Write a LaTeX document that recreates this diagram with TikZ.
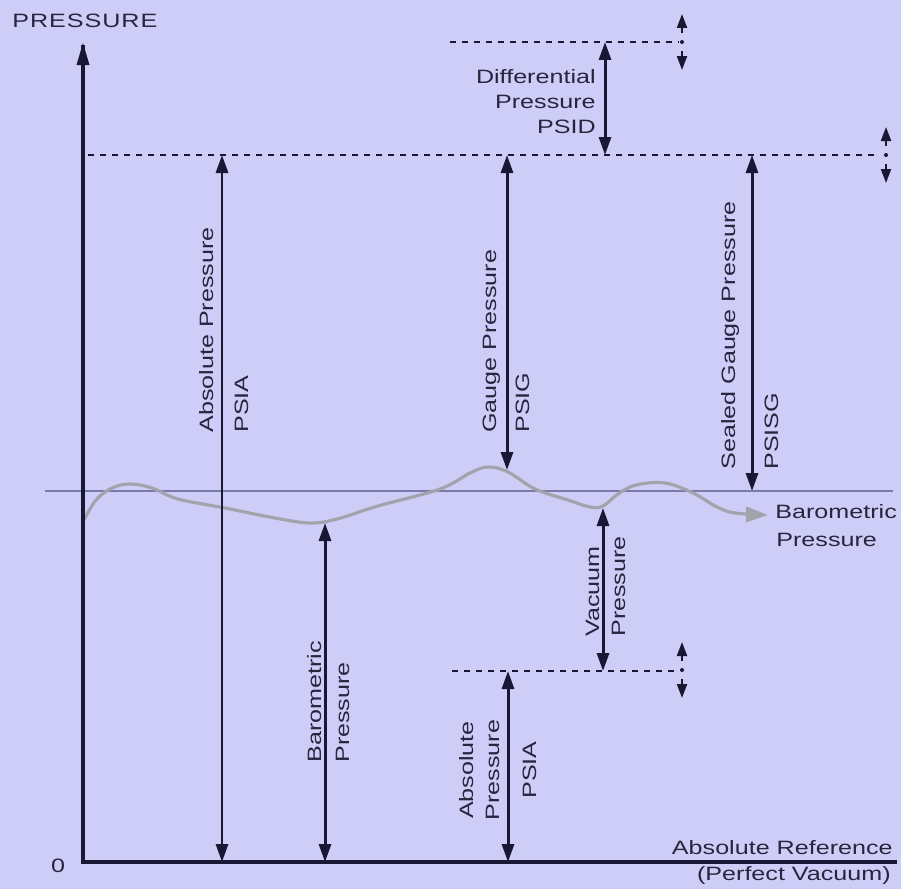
\documentclass[tikz,border=0pt]{standalone}
\usepackage{fontspec}
\setmainfont{Liberation Sans}[FakeStretch=1.3]
\usepackage{tikz}
\usetikzlibrary{arrows.meta}
\definecolor{bgblue}{RGB}{206,205,248}
\definecolor{ink}{RGB}{24,24,52}
\definecolor{inkt}{RGB}{38,38,62}
\definecolor{wave}{RGB}{163,163,172}
\definecolor{baro}{RGB}{122,122,170}

\begin{document}
\begin{tikzpicture}[x=0.02cm,y=-0.02cm]
\tikzstyle{every node}+=[inner sep=0pt]
\tikzstyle{lbl}=[text=inkt, font=\fontsize{11}{13}\selectfont, text height=7pt, text depth=0pt]
\tikzstyle{vlbl}=[lbl, rotate=90, anchor=west]
\tikzstyle{dimarrow}=[draw=ink, line width=1.7pt, >={Triangle[length=0.36cm,width=0.24cm]}, <->]
\tikzstyle{level}=[draw=ink, line width=1.4pt, dash pattern=on 0.12cm off 0.12cm]
\tikzstyle{jittip}=[draw=ink, line width=1.2pt, -{Triangle[length=0.28cm,width=0.2cm]}]
\fill [bgblue] (0,0) rectangle (901,889);
\useasboundingbox (0,0) rectangle (901,889);
\coordinate (origin) at (83,862);
\coordinate (ytop) at (83,45);
\coordinate (xend) at (897,862);
\coordinate (diffL) at (450,42);
\coordinate (diffR) at (678,42);
\coordinate (highL) at (88,155);
\coordinate (highR) at (878,155);
\coordinate (lowL) at (452,671);
\coordinate (lowR) at (675,671);
\coordinate (baroL) at (45,491);
\coordinate (baroR) at (893,491);
\coordinate (wgauge) at (507,470);
\coordinate (wbaro) at (325,523);
\coordinate (wvac) at (603,508);
\coordinate (wseal) at (752,491);
\coordinate (jdiff) at (682,42);
\coordinate (jhigh) at (886,155);
\coordinate (jlow) at (682,670);
\draw [baro, line width=1pt] (baroL) -- (baroR);
\draw [wave, line width=1.8pt, -{Triangle[length=0.44cm,width=0.3cm]}] plot [smooth, tension=0.6] coordinates {(84,520) (96,500) (112,488) (130,484) (152,488) (178,499) (225,508) (275,518) (310,523) (337,519) (378,506) (440,489) (470,473) (488,467) (508,472) (535,489) (568,500) (590,507) (603,506) (618,494) (636,485) (665,483) (693,493) (717,507) (735,513) (768,515)};
\draw [ink, line width=2.3pt] (ytop) -- (origin) -- (xend);
\fill [ink] (ytop) ++(0,-2) -- ++(-6.5,22) -- ++(13,0) -- cycle;
\draw [level] (diffL) -- (diffR);
\draw [level] (highL) -- (highR);
\draw [level] (lowL) -- (lowR);
\foreach \j in {jdiff,jhigh,jlow} {
  \fill [ink] (\j) circle (2);
  \draw [jittip] (\j) ++(0,-9) -- ++(0,-19);
  \draw [jittip] (\j) ++(0,9) -- ++(0,19);
}
\draw [dimarrow] (605,42) -- (605,155);
\draw [dimarrow] (222,155) -- (222,862);
\draw [dimarrow] (507,155) -- (wgauge);
\draw [dimarrow] (752,155) -- (wseal);
\draw [dimarrow] (wbaro) -- (325,862);
\draw [dimarrow] (wvac) -- (603,671);
\draw [dimarrow] (508,671) -- (508,862);
\node [lbl, anchor=west, font=\fontsize{11}{13}\selectfont\addfontfeature{LetterSpace=5}] (ylabel) at (12,21) {PRESSURE};
\node [lbl] (zero) at (58,866) {0};
\node [lbl, anchor=east] (absref) at (893,848) {Absolute Reference};
\node [lbl, anchor=east] (vacref) at (891,874) {(Perfect Vacuum)};
\node [lbl, anchor=west] (barotxt) at (775,512) {Barometric};
\node [lbl, anchor=west] (barotxtb) at (776,540) {Pressure};
\node [lbl, anchor=east] (difftxt) at (596,77) {Differential};
\node [lbl, anchor=east] (difftxtb) at (596,102) {Pressure};
\node [lbl, anchor=east] (difftxtc) at (596,127) {PSID};
\node [vlbl] (abstxt) at (207,433) {Absolute Pressure};
\node [vlbl] (abstxtb) at (242,433) {PSIA};
\node [vlbl] (gaugetxt) at (490,433) {Gauge Pressure};
\node [vlbl] (gaugetxtb) at (523,433) {PSIG};
\node [vlbl] (sealtxt) at (729,470) {Sealed Gauge Pressure};
\node [vlbl] (sealtxtb) at (772,470) {PSISG};
\node [vlbl] (barvtxt) at (315,763) {Barometric};
\node [vlbl] (barvtxtb) at (343,763) {Pressure};
\node [vlbl] (vactxt) at (593,637) {Vacuum};
\node [vlbl] (vactxtb) at (619,637) {Pressure};
\node [lbl, rotate=90] (lowtxt) at (467,770) {Absolute};
\node [lbl, rotate=90] (lowtxtb) at (493,770) {Pressure};
\node [lbl, rotate=90] (lowtxtc) at (530,770) {PSIA};
\end{tikzpicture}
\end{document}
